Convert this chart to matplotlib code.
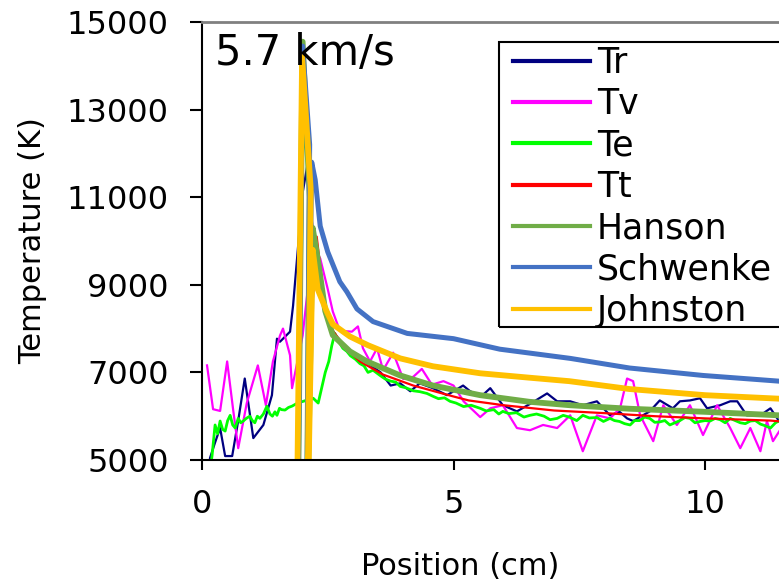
import matplotlib
matplotlib.use("Agg")
import matplotlib.pyplot as plt
from matplotlib.patches import Rectangle

plt.rcParams['font.family'] = ['DejaVu Sans']

# ---------------- data ----------------
tr_x = [0.10, 0.16, 0.26, 0.36, 0.46, 0.60, 0.72, 0.85, 1.02, 1.22, 1.39, 1.49, 1.55, 1.75, 1.81,
        2.00, 2.09, 2.25, 2.45, 2.60, 2.74, 2.88, 3.08, 3.30, 3.55, 3.75, 3.94, 4.14, 4.33, 4.59,
        4.87, 5.19, 5.33, 5.55, 5.73, 5.98, 6.26, 6.55, 6.86, 7.06, 7.32, 7.57, 7.85, 8.11, 8.30,
        8.45, 8.57, 8.90, 9.10, 9.36, 9.50, 9.70, 9.90, 10.04, 10.30, 10.50, 10.64, 10.83, 11.10,
        11.30, 11.47]
tr_y = [4400, 5050, 5400, 5730, 5090, 5090, 5900, 6860, 5500, 5800, 6480, 7770, 7700, 7930, 8520,
        11100, 11700, 9600, 8300, 7950, 7700, 7550, 7390, 7200, 7000, 6700, 6750, 6570, 6750, 6640,
        6480, 6700, 6570, 6450, 6640, 6250, 6110, 6300, 6520, 6340, 6340, 6250, 6340, 6020, 6100,
        5950, 5890, 6110, 6360, 6180, 6340, 6360, 6410, 6180, 6250, 6340, 6340, 6020, 6020,
        6180, 5890]

tv_x = [0.10, 0.22, 0.36, 0.50, 0.62, 0.72, 0.89, 1.11, 1.27, 1.41, 1.55, 1.61, 1.75, 1.79,
        2.00, 2.20, 2.35, 2.50, 2.60, 2.74, 2.98, 3.10, 3.20, 3.34, 3.48, 3.60, 3.80, 4.00, 4.20,
        4.37, 4.57, 4.80, 5.00, 5.20, 5.53, 5.73, 5.98, 6.26, 6.52, 6.78, 7.06, 7.32, 7.57, 7.85,
        8.11, 8.31, 8.45, 8.57, 8.71, 8.97, 9.17, 9.44, 9.70, 9.96, 10.24, 10.50, 10.70, 10.90,
        11.10, 11.23, 11.35, 11.50]
tv_y = [7160, 6160, 6120, 7250, 6140, 5270, 6300, 7160, 6250, 7250, 7840, 8000, 7390, 6640,
        7840, 9900, 9600, 8900, 8390, 7950, 7930, 8050, 7550, 7250, 7550, 7050, 7450, 6850, 6900,
        7080, 6720, 6800, 6700, 6340, 5980, 6180, 6250, 5730, 5680, 5800, 5730, 6020, 5200, 6020,
        5950, 6180, 6860, 6800, 6020, 5430, 6250, 5800, 6250, 5570, 6250, 5730, 5270, 5730,
        5200, 5890, 5430, 5700]

te_x = [0.12, 0.20, 0.26, 0.31, 0.36, 0.41, 0.46, 0.51, 0.56, 0.61, 0.66, 0.72, 0.77, 0.82,
        0.88, 0.95, 1.00, 1.05, 1.10, 1.15, 1.22, 1.29, 1.35, 1.40, 1.45, 1.49, 1.54, 1.58, 1.65,
        1.72, 1.79, 1.90, 2.21, 2.31, 2.40, 2.45, 2.52, 2.58, 2.64, 2.72, 2.80, 2.88, 2.95, 3.05,
        3.14, 3.22, 3.30, 3.40, 3.54, 3.64, 3.75, 3.85, 3.94, 4.05, 4.20, 4.33, 4.47, 4.60, 4.70,
        4.82, 4.93, 5.05, 5.20, 5.35, 5.53, 5.65, 5.80, 5.90, 5.98, 6.10, 6.25, 6.40, 6.52, 6.65,
        6.80, 6.92, 7.06, 7.18, 7.30, 7.45, 7.57, 7.70, 7.85, 7.98, 8.11, 8.20, 8.30, 8.40, 8.51,
        8.60, 8.70, 8.80, 8.90, 9.00, 9.10, 9.20, 9.30, 9.40, 9.50, 9.60, 9.70, 9.80, 9.90, 10.00,
        10.10, 10.20, 10.30, 10.40, 10.50, 10.60, 10.70, 10.80, 10.90, 11.00, 11.10, 11.20, 11.30,
        11.40, 11.47]
te_y = [4400, 5100, 5800, 5600, 5890, 5700, 5660, 5900, 6020, 5800, 5730, 5950, 5850, 5890,
        5950, 6000, 5900, 5850, 6000, 5950, 6050, 6230, 6050, 6000, 6100, 6020, 6180, 6150, 6140,
        6200, 6230, 6300, 6410, 6300, 6750, 7000, 7250, 7610, 7890, 7700, 7550, 7480, 7380, 7300,
        7200, 7150, 7000, 7050, 6930, 6850, 6800, 6780, 6680, 6650, 6580, 6560, 6520, 6450, 6400,
        6420, 6340, 6300, 6220, 6250, 6180, 6120, 6150, 6050, 6110, 6060, 6080, 5980, 6020, 6050,
        6000, 5920, 5950, 6020, 5980, 5900, 6020, 5960, 5970, 5880, 5950, 5900, 5880, 5830, 5800,
        5900, 5900, 5980, 5950, 5860, 5870, 5900, 5800, 5850, 5900, 5970, 5950, 5850, 5880, 5900,
        5890, 5950, 5920, 5850, 5950, 5900, 5850, 5830, 5890, 5900, 5820, 5780, 5730,
        5850, 5890]

tt_x = [2.11, 2.20, 2.28, 2.45, 2.60, 2.90, 3.14, 3.60, 4.20, 5.00, 5.30, 6.00, 7.00, 8.00,
        9.00, 10.00, 11.30, 11.50]
tt_y = [3000, 8600, 10100, 8450, 7950, 7500, 7250, 6950, 6700, 6450, 6360, 6250, 6130, 6070,
        6000, 5950, 5900, 5880]

hanson_x = [1.90, 2.00, 2.14, 2.08, 2.20, 2.30, 2.45, 2.60, 2.94, 3.28, 3.94, 4.59, 5.53, 6.50,
            7.32, 8.50, 10.00, 11.47]
hanson_y = [3000, 14550, 11000, 3000, 10300, 9600, 8400, 7850, 7480, 7250, 6930, 6700, 6480,
            6330, 6250, 6170, 6100, 6020]

schwenke_x = [1.90, 2.00, 2.14, 2.08, 2.18, 2.25, 2.35, 2.50, 2.74, 2.88, 3.08, 3.40, 4.08,
              5.00, 5.92, 7.32, 8.50, 9.96, 11.47]
schwenke_y = [3000, 14450, 12200, 3000, 11800, 11400, 10340, 9750, 9070, 8840, 8450, 8160, 7890,
              7770, 7530, 7320, 7100, 6930, 6800]

johnston_x = [1.88, 1.99, 2.16, 2.09, 2.20, 2.30, 2.48, 2.60, 2.94, 3.30, 3.94, 4.59, 5.53,
              6.50, 7.30, 8.50, 10.00, 11.47]
johnston_y = [3000, 14200, 11200, 3000, 9800, 8900, 8390, 8100, 7820, 7620, 7320, 7140, 6980,
              6880, 6800, 6620, 6480, 6400]

x_ticks = [0, 5, 10]
y_ticks = [5000, 7000, 9000, 11000, 13000, 15000]

# ---------------- figure ----------------
W, H = 779, 586
fig = plt.figure(figsize=(W / 100, H / 100), dpi=100)
ax = fig.add_axes([202 / W, 1 - 460 / H, 1 - 202 / W, (460 - 22) / H])

ax.plot(tr_x, tr_y, color='#000080', lw=1.6, label='Tr')
ax.plot(tv_x, tv_y, color='#FF00FF', lw=1.6, label='Tv')
ax.plot(te_x, te_y, color='#00FF00', lw=2.0, label='Te')
ax.plot(tt_x, tt_y, color='#FF0000', lw=1.6, label='Tt')
ax.plot(hanson_x, hanson_y, color='#70AD47', lw=4.2, label='Hanson', solid_joinstyle='round')
ax.plot(schwenke_x, schwenke_y, color='#4472C4', lw=3.6, label='Schwenke', solid_joinstyle='round')
ax.plot(johnston_x, johnston_y, color='#FFC000', lw=4.2, label='Johnston', solid_joinstyle='round')

ax.set_xlim(0, 11.47)
ax.set_ylim(5000, 15000)
ax.set_xticks(x_ticks)
ax.set_yticks(y_ticks)
ax.tick_params(axis='both', labelsize=23, width=1.5, color='black', direction='out')
ax.tick_params(axis='y', length=9, pad=15)
ax.tick_params(axis='x', length=7, pad=14)

for s in ('left', 'bottom'):
    ax.spines[s].set_color('black')
    ax.spines[s].set_linewidth(1.5)
ax.spines['top'].set_color('#808080')
ax.spines['top'].set_linewidth(2)
ax.spines['right'].set_visible(False)

ax.set_xlabel('Position (cm)', fontsize=22)
ax.xaxis.set_label_coords((460 - 202) / 577, (460 - 552) / 438)
ax.set_ylabel('Temperature (K)', fontsize=22, labelpad=14)

ax.text(0.26, 14290, '5.7 km/s', fontsize=30, va='center', ha='left')

# legend: entries without frame, frame drawn as a rectangle
F = 25 * 100 / 72
leg = ax.legend(loc='upper left', bbox_to_anchor=(513 / W, 1 - 46 / H),
                bbox_transform=fig.transFigure, fontsize=25, frameon=False,
                borderaxespad=0, borderpad=0,
                handlelength=77 / F, handletextpad=7 / F, labelspacing=0.21)
for line in leg.get_lines():
    line.set_linewidth(3)
fig.patches.append(Rectangle((499 / W, 1 - 327 / H), (790 - 499) / W, (327 - 42) / H,
                             transform=fig.transFigure, fill=False, edgecolor='black',
                             linewidth=1.5, zorder=5))
fig.savefig('out.png', dpi=100)
